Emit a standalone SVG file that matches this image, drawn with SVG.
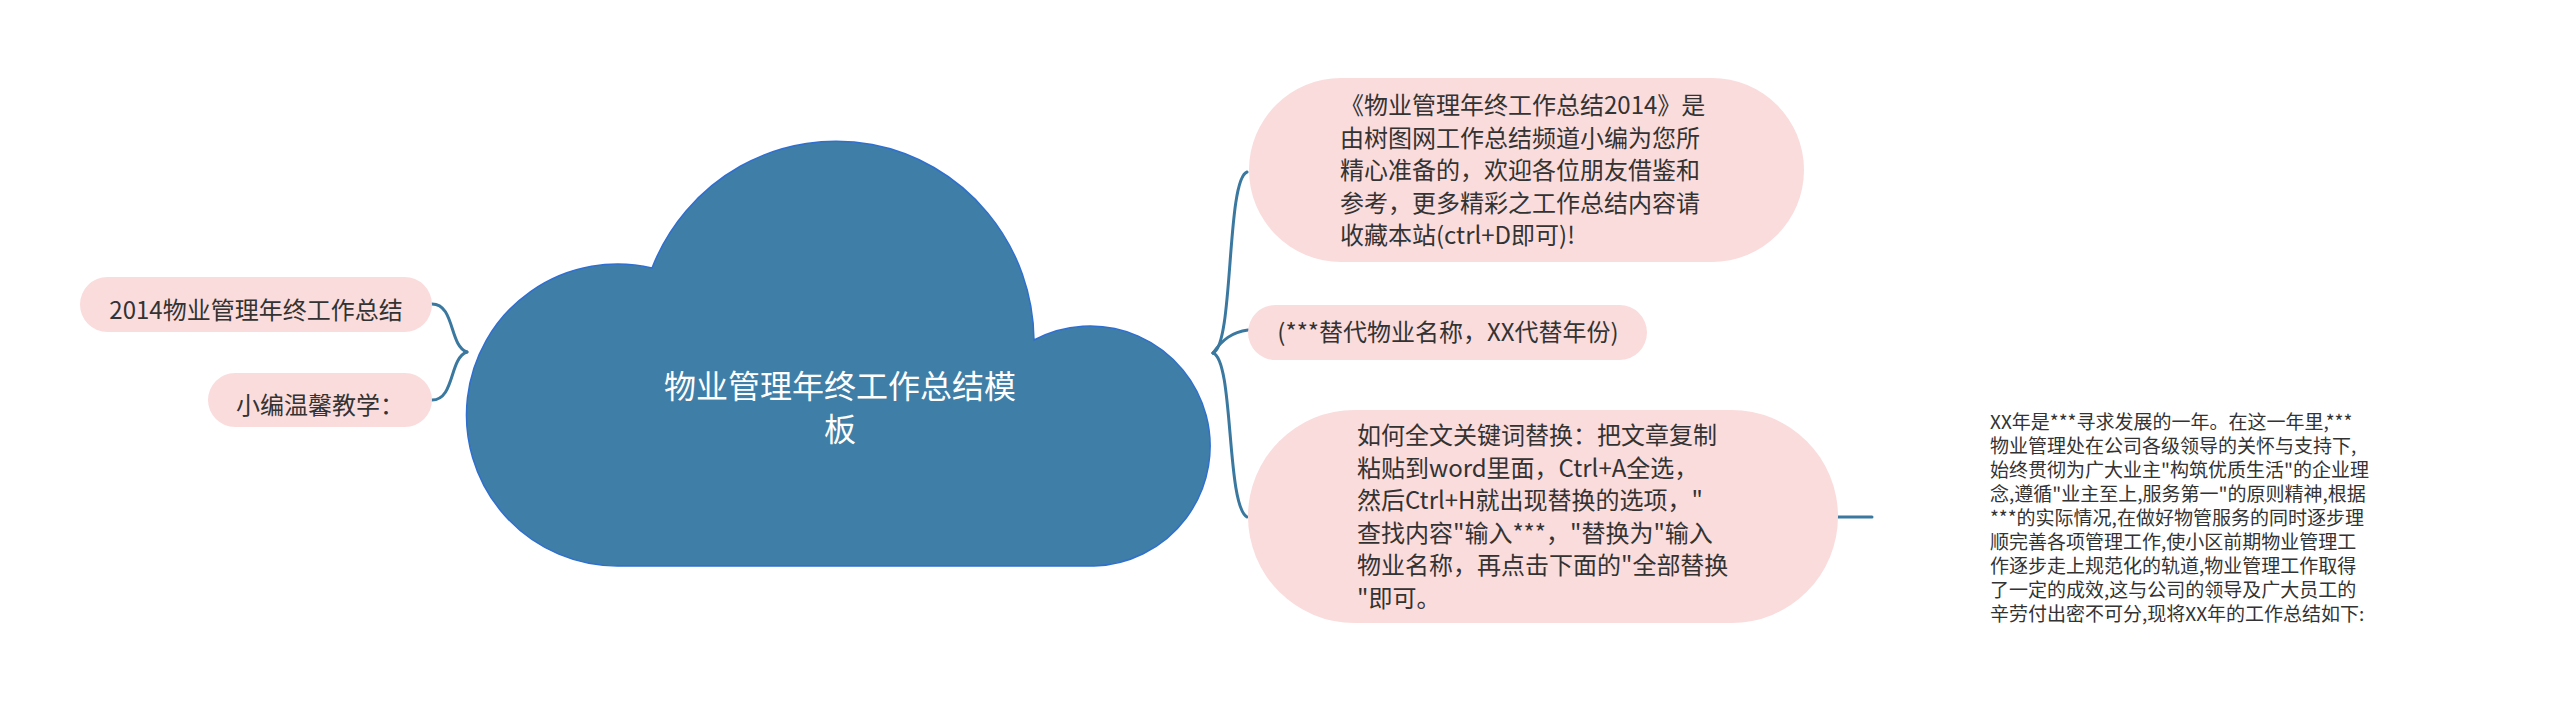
<svg xmlns="http://www.w3.org/2000/svg" width="2560" height="715" viewBox="0 0 2560 715">
<style>
.pill{fill:#fadcdc;}
.t{font-family:"Noto Sans CJK SC","Liberation Sans",sans-serif;font-size:24px;fill:#333333;}
.mid{text-anchor:middle;}
.c{stroke:#3a789f;stroke-width:3;fill:none;stroke-linecap:round;}
</style>
<rect width="2560" height="715" fill="#ffffff"/>
<g id="connectors">
<path class="c" d="M467,352 C449,346 455,304 432,304"/>
<path class="c" d="M467,352 C449,358 455,400 432,400"/>
<path class="c" d="M1213,353 C1234,346 1226,180 1247,172"/>
<path class="c" d="M1213,353 C1222,340 1232,332 1248,330"/>
<path class="c" d="M1213,353 C1234,360 1226,505 1247,517"/>
<path class="c" d="M1838,517 L1872,517"/>
</g>
<g id="center">
<path d="M618,566 A151,151 0 1 1 652,268 A198,201 0 0 1 1034,340 A120,120 0 1 1 1094,566 Z" fill="#3f7ea6" stroke="#2f6fcf" stroke-width="1.5"/>
<text class="t mid" style="font-size:32px;fill:#ffffff"><tspan x="840" y="398">物业管理年终工作总结模</tspan><tspan x="840" y="441">板</tspan></text>
</g>
<g id="left1">
<rect class="pill" x="80" y="277" width="352" height="55" rx="27.5"/>
<text class="t mid" x="256" y="318.5">2014物业管理年终工作总结</text>
</g>
<g id="left2">
<rect class="pill" x="208" y="373" width="224" height="54" rx="27"/>
<text class="t mid" x="320" y="413.5">小编温馨教学：</text>
</g>
<g id="right1">
<rect class="pill" x="1249" y="78" width="555" height="184" rx="92"/>
<text class="t"><tspan x="1340" y="114">《物业管理年终工作总结2014》是</tspan><tspan x="1340" y="146.5">由树图网工作总结频道小编为您所</tspan><tspan x="1340" y="179">精心准备的，欢迎各位朋友借鉴和</tspan><tspan x="1340" y="211.5">参考，更多精彩之工作总结内容请</tspan><tspan x="1340" y="244">收藏本站(ctrl+D即可)!</tspan></text>
</g>
<g id="right2">
<rect class="pill" x="1248" y="305" width="399" height="55" rx="27.5"/>
<text class="t mid" x="1448" y="341">(***替代物业名称，XX代替年份)</text>
</g>
<g id="right3">
<rect class="pill" x="1248" y="410" width="590" height="213" rx="106.5"/>
<text class="t"><tspan x="1357" y="444">如何全文关键词替换：把文章复制</tspan><tspan x="1357" y="476.5">粘贴到word里面，Ctrl+A全选，</tspan><tspan x="1357" y="509">然后Ctrl+H就出现替换的选项，"</tspan><tspan x="1357" y="541.5">查找内容"输入***，"替换为"输入</tspan><tspan x="1357" y="574">物业名称，再点击下面的"全部替换</tspan><tspan x="1357" y="606.5">"即可。</tspan></text>
</g>
<g id="detail">
<text class="t" style="font-size:19px"><tspan x="1990" y="429">XX年是***寻求发展的一年。在这一年里,***</tspan><tspan x="1990" y="453">物业管理处在公司各级领导的关怀与支持下,</tspan><tspan x="1990" y="477">始终贯彻为广大业主"构筑优质生活"的企业理</tspan><tspan x="1990" y="501">念,遵循"业主至上,服务第一"的原则精神,根据</tspan><tspan x="1990" y="525">***的实际情况,在做好物管服务的同时逐步理</tspan><tspan x="1990" y="549">顺完善各项管理工作,使小区前期物业管理工</tspan><tspan x="1990" y="573">作逐步走上规范化的轨道,物业管理工作取得</tspan><tspan x="1990" y="597">了一定的成效,这与公司的领导及广大员工的</tspan><tspan x="1990" y="621">辛劳付出密不可分,现将XX年的工作总结如下:</tspan></text>
</g>
</svg>
